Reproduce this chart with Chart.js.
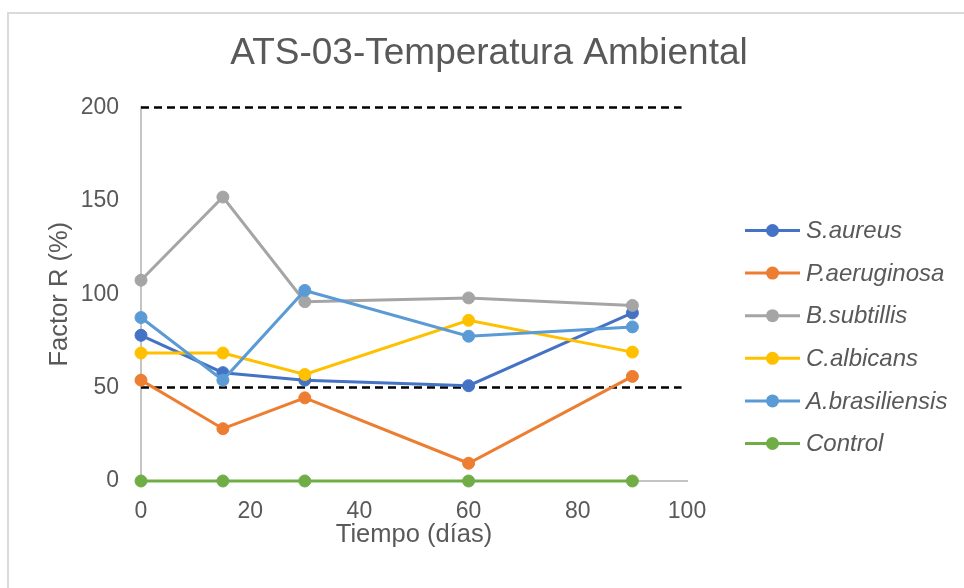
<!DOCTYPE html>
<html>
<head>
<meta charset="utf-8">
<script src="https://cdn.jsdelivr.net/npm/chart.js@4.4.1/dist/chart.umd.min.js"></script>
<style>
  html, body { margin: 0; padding: 0; background: #ffffff; }
  #wrap { position: relative; width: 964px; height: 588px; overflow: hidden; }
  #frame { position: absolute; left: 7px; top: 12px; width: 1000px; height: 700px;
           border: 2px solid #dadada; box-sizing: border-box; }
  canvas { position: absolute; left: 0; top: 0; }
</style>
</head>
<body>
<div id="wrap">
  <div id="frame"></div>
  <canvas id="c" width="964" height="588"></canvas>
</div>
<script>
// Sampling days and Factor R (%) per organism
const days = [0, 15, 30, 60, 90];
const sAureus = [78, 58, 54, 51, 90];
const pAeruginosa = [54, 28, 44.5, 9.5, 56];
const bSubtillis = [107.5, 152, 96, 98, 94];
const cAlbicans = [68.5, 68.5, 57, 86, 69];
const aBrasiliensis = [87.5, 54, 102, 77.5, 82.5];
const control = [0, 0, 0, 0, 0];

// Reference limits drawn as dashed lines
const limitX = [0, 99];
const upperLimit = [200, 200];
const lowerLimit = [50, 50];

const xTicks = [0, 20, 40, 60, 80, 100];
const yTicks = [0, 50, 100, 150, 200];

const seriesNames = ['S.aureus', 'P.aeruginosa', 'B.subtillis', 'C.albicans', 'A.brasiliensis', 'Control'];
const seriesValues = [sAureus, pAeruginosa, bSubtillis, cAlbicans, aBrasiliensis, control];
const seriesColors = ['#4472C4', '#ED7D31', '#A5A5A5', '#FFC000', '#5B9BD5', '#70AD47'];

const FONT = '"Liberation Sans", Arial, sans-serif';
const TEXT = '#595959';
const AXIS = '#c4c4c4';

const toPoints = (xs, ys) => xs.map((x, i) => ({ x: x, y: ys[i] }));

const datasets = seriesNames.map((name, i) => ({
  label: name,
  data: toPoints(days, seriesValues[i]),
  borderColor: seriesColors[i],
  backgroundColor: seriesColors[i],
  pointBackgroundColor: seriesColors[i],
  pointBorderColor: seriesColors[i],
  borderWidth: 3,
  pointRadius: 6,
  pointBorderWidth: 1,
  tension: 0,
  clip: false,
  order: 10 - i,
  inLegend: true
}));

[upperLimit, lowerLimit].forEach(vals => {
  datasets.push({
    label: '',
    data: toPoints(limitX, vals),
    borderColor: '#000000',
    borderWidth: 2.5,
    borderDash: [8, 5],
    pointRadius: 0,
    tension: 0,
    clip: false,
    order: 20,
    inLegend: false
  });
});

// Legend drawn at the right: line + marker + italic name
const sideLegend = {
  id: 'sideLegend',
  afterDraw(chart) {
    const ctx = chart.ctx;
    const x0 = 745, x1 = 800, top = 230.5, step = 42.6;
    let row = 0;
    ctx.save();
    chart.data.datasets.forEach(ds => {
      if (!ds.inLegend) return;
      const y = top + row * step;
      ctx.strokeStyle = ds.borderColor;
      ctx.lineWidth = 3;
      ctx.beginPath();
      ctx.moveTo(x0, y);
      ctx.lineTo(x1, y);
      ctx.stroke();
      ctx.fillStyle = ds.borderColor;
      ctx.beginPath();
      ctx.arc((x0 + x1) / 2, y, 6.5, 0, Math.PI * 2);
      ctx.fill();
      ctx.fillStyle = TEXT;
      ctx.font = 'italic 24px ' + FONT;
      ctx.textBaseline = 'middle';
      ctx.textAlign = 'left';
      ctx.fillText(ds.label, x1 + 6, y + 1);
      row++;
    });
    ctx.restore();
  }
};

new Chart(document.getElementById('c'), {
  type: 'line',
  data: { datasets: datasets },
  plugins: [sideLegend],
  options: {
    responsive: false,
    animation: false,
    devicePixelRatio: 1,
    layout: { padding: { left: 14, right: 0, top: 0, bottom: 0 } },
    plugins: {
      legend: { display: false },
      tooltip: { enabled: false },
      title: {
        display: true,
        text: 'ATS-03-Temperatura Ambiental',
        color: TEXT,
        font: { family: FONT, size: 37, weight: 'normal' },
        padding: { top: 31.5, bottom: 31.5 }
      }
    },
    scales: {
      x: {
        type: 'linear',
        min: 0,
        max: 100,
        afterBuildTicks: s => { s.ticks = xTicks.map(v => ({ value: v })); },
        afterFit: s => { s.height = 107; },
        grid: { display: false },
        border: { display: true, color: AXIS, width: 2 },
        ticks: { color: TEXT, font: { family: FONT, size: 23 }, padding: 9, maxRotation: 0 },
        title: {
          display: true,
          text: 'Tiempo (días)',
          color: TEXT,
          font: { family: FONT, size: 25.5 },
          padding: { top: 0, bottom: 38 }
        }
      },
      y: {
        type: 'linear',
        min: 0,
        max: 200,
        afterBuildTicks: s => { s.ticks = yTicks.map(v => ({ value: v })); },
        afterFit: s => { s.width = 127; },
        grid: { display: false },
        border: { display: true, color: AXIS, width: 2 },
        ticks: { color: TEXT, font: { family: FONT, size: 23 }, padding: 14 },
        title: {
          display: true,
          text: 'Factor R (%)',
          color: TEXT,
          font: { family: FONT, size: 25.5 },
          padding: { top: 30.5, bottom: 0 }
        }
      },
      // empty band on the right that holds the legend
      side: {
        type: 'linear',
        position: 'right',
        display: true,
        afterFit: s => { s.width = 277; },
        grid: { display: false },
        border: { display: false },
        ticks: { display: false }
      }
    }
  }
});
</script>
</body>
</html>
